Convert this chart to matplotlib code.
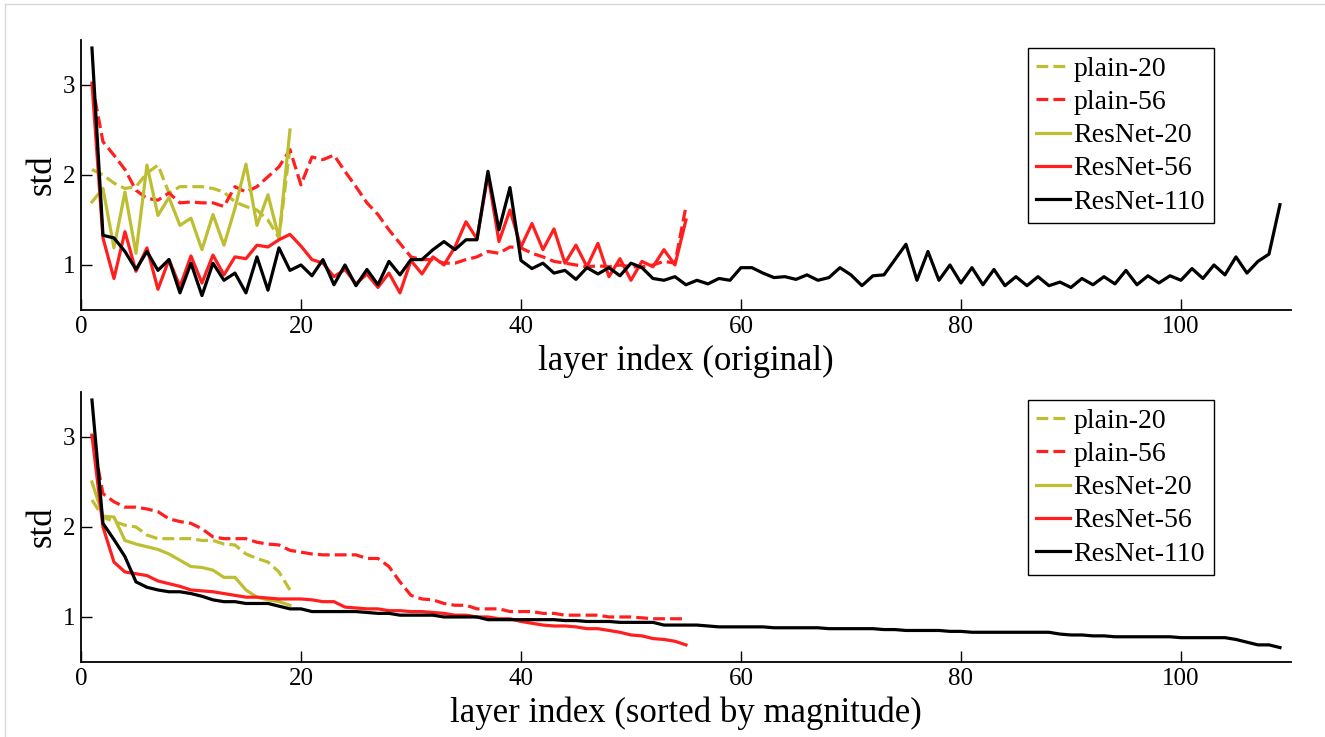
import numpy as np
import matplotlib
matplotlib.use("Agg")
import matplotlib.pyplot as plt
from matplotlib.lines import Line2D

plain20 = [2.06, 2.00, 1.91, 1.85, 1.87, 2.02, 2.11, 1.80, 1.87, 1.87,
           1.87, 1.85, 1.81, 1.70, 1.65, 1.61, 1.50, 1.30, 2.30]
plain56 = [3.02, 2.37, 2.22, 2.06, 1.83, 1.74, 1.72, 1.80, 1.69, 1.70,
           1.69, 1.69, 1.65, 1.87, 1.81, 1.87, 1.98, 2.09, 2.28, 1.89,
           2.20, 2.17, 2.22, 2.04, 1.87, 1.69, 1.56, 1.39, 1.24, 1.09,
           1.06, 1.06, 1.02, 1.02, 1.06, 1.09, 1.15, 1.13, 1.20, 1.19,
           1.13, 1.09, 1.04, 1.02, 1.00, 0.98, 0.99, 0.98, 1.00, 0.98,
           0.98, 1.00, 1.04, 1.02, 1.65]
resnet20 = [1.70, 1.85, 1.19, 1.81, 1.13, 2.11, 1.55, 1.75, 1.44, 1.52,
            1.17, 1.56, 1.22, 1.63, 2.12, 1.44, 1.78, 1.30, 2.50]
resnet56 = [3.02, 1.30, 0.85, 1.37, 0.93, 1.19, 0.73, 1.06, 0.76, 1.10,
            0.80, 1.11, 0.89, 1.09, 1.07, 1.22, 1.20, 1.28, 1.34, 1.21,
            1.06, 1.02, 0.87, 0.95, 0.79, 0.90, 0.75, 0.91, 0.69, 1.05,
            0.90, 1.09, 1.00, 1.20, 1.48, 1.29, 2.00, 1.26, 1.61, 1.20,
            1.46, 1.17, 1.40, 1.02, 1.22, 0.98, 1.24, 0.87, 1.07, 0.83,
            1.04, 0.98, 1.17, 1.00, 1.50]
resnet110 = [3.41, 1.33, 1.30, 1.15, 0.95, 1.15, 0.94, 1.06, 0.69, 1.02,
             0.66, 1.02, 0.83, 0.91, 0.69, 1.09, 0.72, 1.19, 0.94, 1.00,
             0.88, 1.06, 0.78, 1.00, 0.77, 0.95, 0.78, 1.04, 0.89, 1.06,
             1.06, 1.17, 1.26, 1.17, 1.28, 1.28, 2.04, 1.39, 1.86, 1.05,
             0.96, 1.02, 0.91, 0.94, 0.84, 0.97, 0.90, 0.97, 0.88, 1.02,
             0.97, 0.85, 0.83, 0.87, 0.78, 0.83, 0.79, 0.85, 0.83, 0.97,
             0.97, 0.91, 0.86, 0.87, 0.84, 0.89, 0.83, 0.86, 0.97, 0.89,
             0.77, 0.88, 0.89, 1.06, 1.23, 0.83, 1.15, 0.83, 1.00, 0.80,
             0.97, 0.78, 0.95, 0.77, 0.87, 0.77, 0.87, 0.77, 0.81, 0.75,
             0.85, 0.78, 0.87, 0.79, 0.94, 0.78, 0.88, 0.80, 0.88, 0.83,
             0.96, 0.85, 1.00, 0.89, 1.09, 0.91, 1.04, 1.12, 1.67]

OLIVE = '#bebe32'
RED = '#ff1f1f'
series = [
    ('plain-20', plain20, OLIVE, '--'),
    ('plain-56', plain56, RED, '--'),
    ('ResNet-20', resnet20, OLIVE, '-'),
    ('ResNet-56', resnet56, RED, '-'),
    ('ResNet-110', resnet110, 'black', '-'),
]

plt.rcParams['font.family'] = ['Liberation Serif', 'DejaVu Serif']

fig = plt.figure(figsize=(13.25, 7.37), dpi=100)
ax1 = fig.add_axes([0.0611, 0.5794, 0.9132, 0.3664])
ax2 = fig.add_axes([0.0611, 0.1018, 0.9132, 0.3664])

for ax, sort_it, xlabel in [(ax1, False, 'layer index (original)'),
                            (ax2, True, 'layer index (sorted by magnitude)')]:
    for name, vals, c, ls in series:
        v = np.array(vals)
        if sort_it:
            v = np.sort(v)[::-1]
        ax.plot(np.arange(1, len(v) + 1), v, color=c, ls=ls, lw=2.3, label=name)
    ax.set_xlim(0, 110)
    ax.set_ylim(0.5, 3.5)
    ax.set_xticks([0, 20, 40, 60, 80, 100])
    ax.set_yticks([1, 2, 3])
    ax.spines['top'].set_visible(False)
    ax.spines['right'].set_visible(False)
    for s in ['left', 'bottom']:
        ax.spines[s].set_linewidth(1.3)
    ax.tick_params(direction='in', length=8, width=1, labelsize=18, pad=4)
    ax.set_xlabel(xlabel, fontsize=25, labelpad=5)
    ax.set_ylabel('std', fontsize=25, labelpad=3)
    leg = ax.legend(loc='upper right', bbox_to_anchor=(0.936, 0.97), borderaxespad=0,
                    fontsize=20, handlelength=1.2, handletextpad=0.15, labelspacing=0.28,
                    borderpad=0.3, fancybox=False, framealpha=1)
    leg.get_frame().set_edgecolor('black')
    leg.get_frame().set_linewidth(1.0)

# faint screenshot border
fig.add_artist(Line2D([0.004, 0.004], [0, 0.994], color='#d8d8d8', lw=1))
fig.add_artist(Line2D([0.004, 1], [0.994, 0.994], color='#d8d8d8', lw=1))

fig.savefig('out.png', dpi=100, facecolor='white')
